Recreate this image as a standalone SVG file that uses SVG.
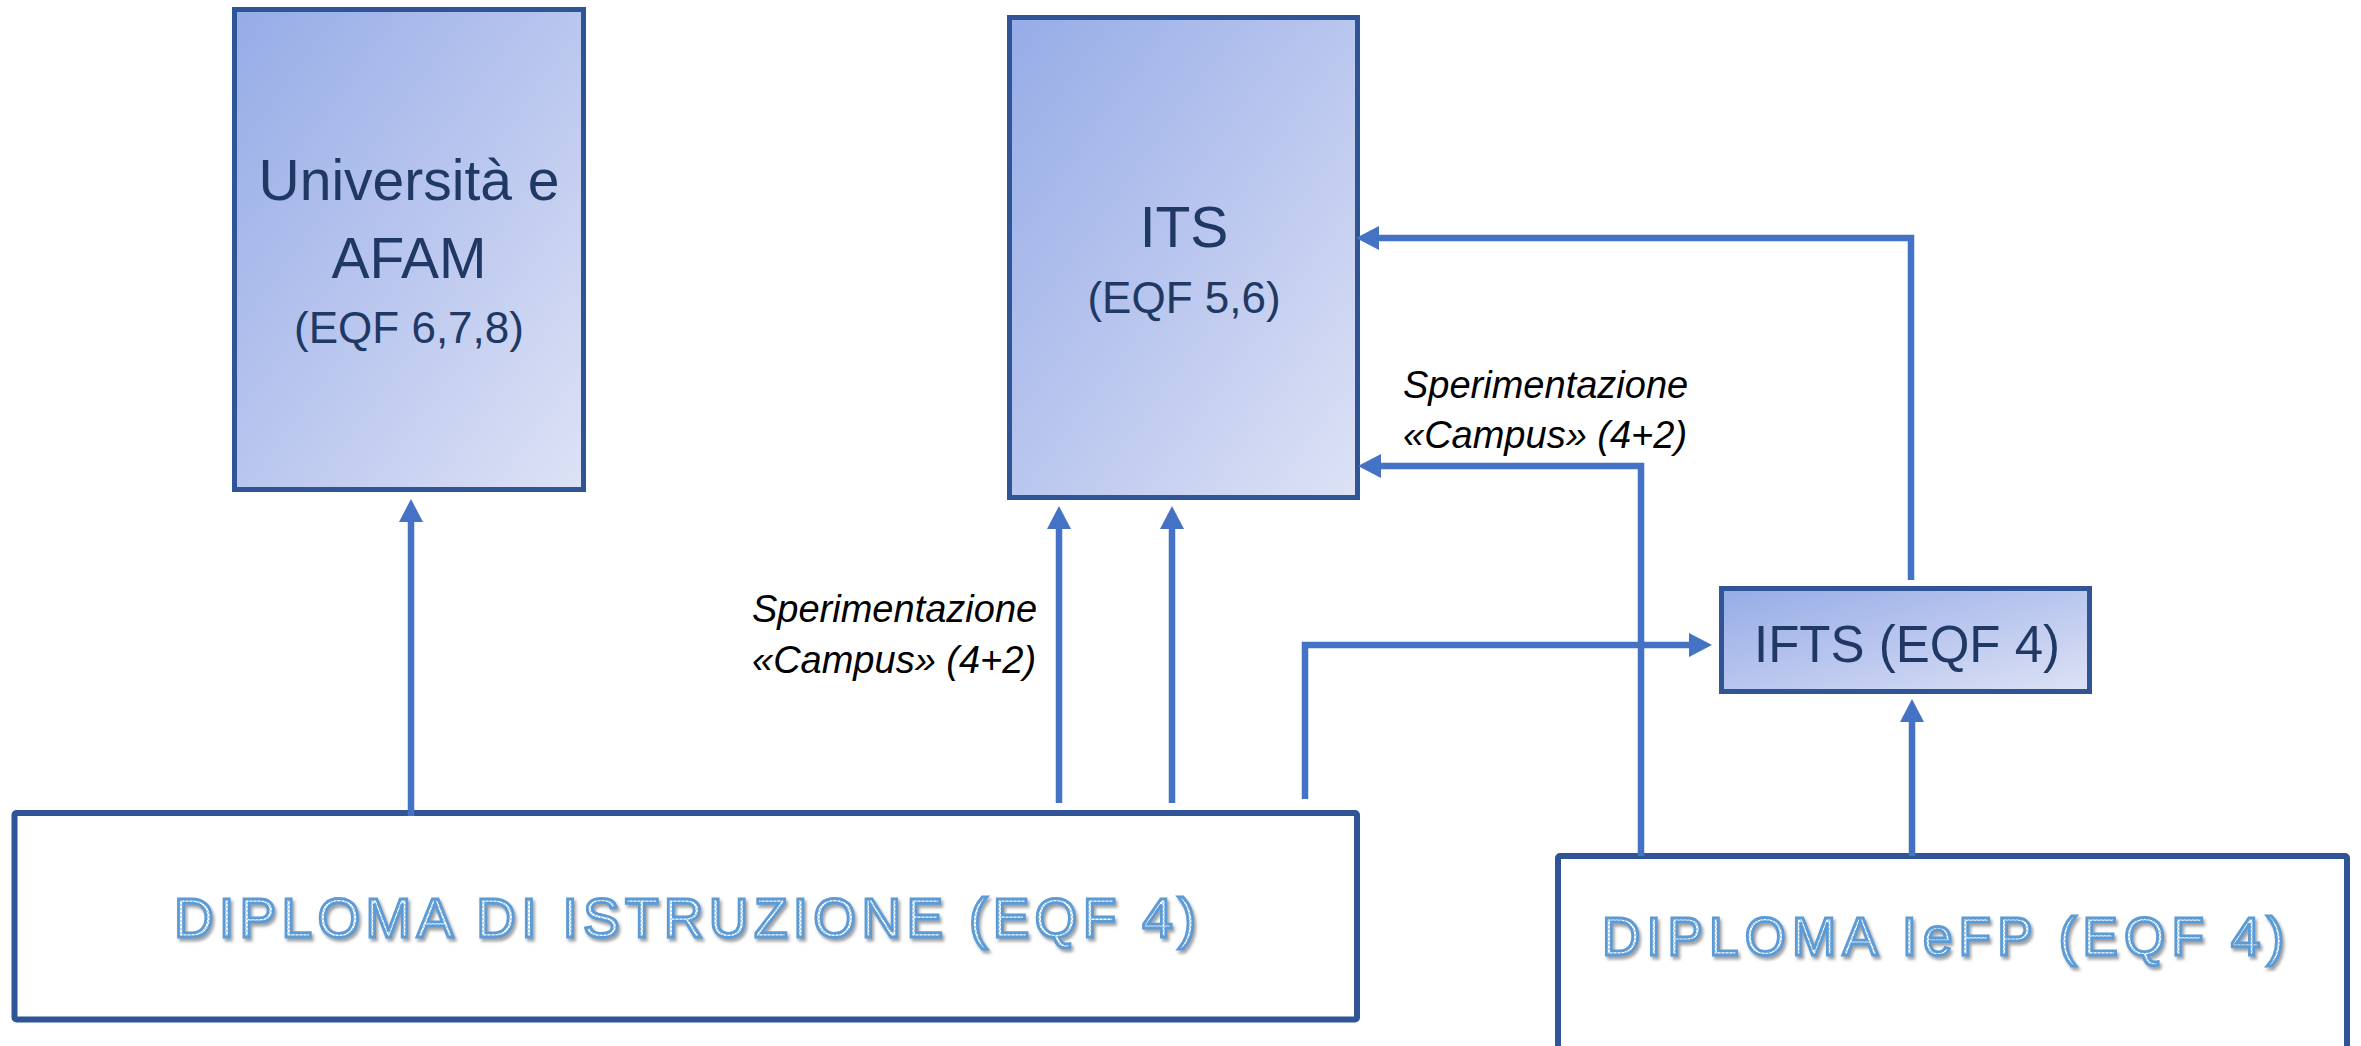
<svg xmlns="http://www.w3.org/2000/svg" width="2361" height="1046" viewBox="0 0 2361 1046">
  <style>
    .box { stroke: #2F5597; stroke-width: 5; fill: url(#grad); }
    .plain { stroke: #2F5597; stroke-width: 6; fill: #FFFFFF; }
    .lbl { font-family: "Liberation Sans", Arial, sans-serif; fill: #203864; text-anchor: middle; }
    .note { font-family: "Liberation Sans", Arial, sans-serif; font-style: italic; font-size: 38px; fill: #000000; }
    .big { font-family: "Liberation Sans", Arial, sans-serif; fill: url(#dots); stroke: #5B9BD5; stroke-width: 2.8; filter: url(#shadow); }
    .conn { fill: none; stroke: #4472C4; stroke-width: 6.5; stroke-linejoin: miter; stroke-linecap: butt; marker-end: url(#arrow); }
  </style>
  <defs>
    <linearGradient id="grad" x1="0" y1="0" x2="1" y2="1">
      <stop offset="0" stop-color="#96ACE7"/>
      <stop offset="0.5" stop-color="#B9C6EE"/>
      <stop offset="1" stop-color="#DDE2F5"/>
    </linearGradient>
    <pattern id="dots" width="4" height="4" patternUnits="userSpaceOnUse">
      <rect width="4" height="4" fill="#FFFFFF"/>
      <rect width="2" height="2" fill="#BDD7EE"/>
      <rect x="2" y="2" width="2" height="2" fill="#BDD7EE"/>
    </pattern>
    <filter id="shadow" x="-5%" y="-20%" width="110%" height="150%">
      <feDropShadow dx="2" dy="3" stdDeviation="1.5" flood-color="#555555" flood-opacity="0.55"/>
    </filter>
    <marker id="arrow" viewBox="0 0 23 24" refX="0" refY="12" markerWidth="23" markerHeight="24" markerUnits="userSpaceOnUse" orient="auto">
      <path d="M0,0 L23,12 L0,24 Z" fill="#4472C4"/>
    </marker>
  </defs>

  <rect width="2361" height="1046" fill="#FFFFFF"/>

  <g id="universita">
    <rect class="box" x="234.5" y="9.5" width="349" height="480"/>
    <text class="lbl" x="409" y="200" font-size="57">Università e</text>
    <text class="lbl" x="409" y="278" font-size="57">AFAM</text>
    <text class="lbl" x="409" y="343" font-size="44">(EQF 6,7,8)</text>
  </g>

  <g id="its">
    <rect class="box" x="1009.5" y="17.5" width="348" height="480"/>
    <text class="lbl" x="1184" y="247" font-size="57">ITS</text>
    <text class="lbl" x="1184" y="313" font-size="44">(EQF 5,6)</text>
  </g>

  <g id="ifts">
    <rect class="box" x="1721.5" y="588.5" width="368" height="103"/>
    <text class="lbl" x="1907" y="662" font-size="51">IFTS (EQF 4)</text>
  </g>

  <g id="diploma-istruzione">
    <rect class="plain" x="14.5" y="813" width="1342.5" height="206.5" rx="2"/>
    <text class="big" x="174" y="937" font-size="55" letter-spacing="5.3">DIPLOMA DI ISTRUZIONE (EQF 4)</text>
  </g>

  <g id="diploma-iefp">
    <rect class="plain" x="1558" y="856" width="789" height="260" rx="2"/>
    <text class="big" x="1602" y="955" font-size="53" letter-spacing="6.2">DIPLOMA IeFP (EQF 4)</text>
  </g>

  <g id="connectors">
    <path class="conn" d="M411,816 V522"/>
    <path class="conn" d="M1059,803 V529"/>
    <path class="conn" d="M1172,803 V529"/>
    <path class="conn" d="M1305,799 V645 H1689"/>
    <path class="conn" d="M1641,856 V466 H1381"/>
    <path class="conn" d="M1911,580 V238 H1379"/>
    <path class="conn" d="M1912,856 V722"/>
  </g>

  <g id="labels">
    <text class="note" x="752" y="622">Sperimentazione</text>
    <text class="note" x="752" y="673">«Campus» (4+2)</text>
    <text class="note" x="1403" y="398">Sperimentazione</text>
    <text class="note" x="1403" y="448">«Campus» (4+2)</text>
  </g>
</svg>
